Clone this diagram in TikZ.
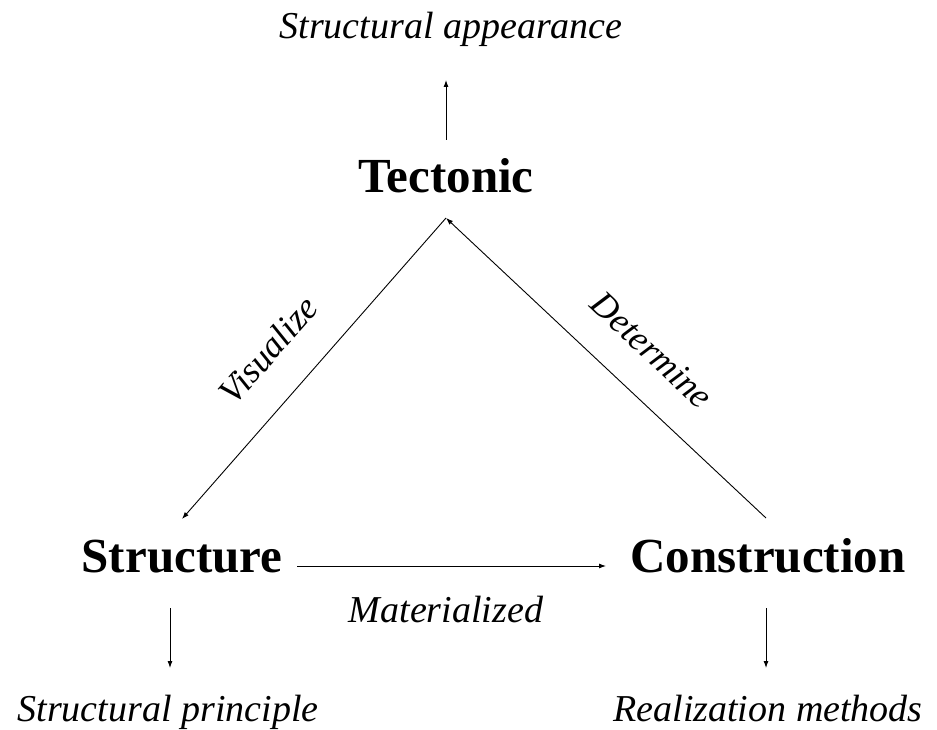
\documentclass[tikz,border=0pt]{standalone}
\usepackage{fontspec}
\setmainfont{Liberation Serif}
\usetikzlibrary{arrows.meta}
\begin{document}
\begin{tikzpicture}[x=1pt,y=-1pt,
  main/.style={font=\fontsize{49}{52}\selectfont\bfseries, inner sep=0pt, anchor=base},
  lab/.style={font=\fontsize{38}{42}\selectfont\itshape, inner sep=0pt, anchor=base},
  rlab/.style={font=\fontsize{36}{40}\selectfont\itshape, inner sep=0pt},
  con/.style={line width=0.9pt, -{Latex[length=7pt,width=5pt]}}]
\useasboundingbox (0,0) rectangle (937,730);
\node[lab] (app) at (451,39) {Structural appearance};
\node[main] (tec) at (446,193) {Tectonic};
\node[main] (str) at (182,572) {Structure};
\node[main] (con) at (768,572) {Construction};
\node[lab] (mat) at (446,622) {Materialized};
\node[lab] (pri) at (168,721) {Structural principle};
\node[lab] (rea) at (768,721) {Realization methods};
\coordinate (apex) at (446,218);
\coordinate (sL) at (182,519);
\coordinate (cR) at (766,518);
\coordinate (appB) at (446,80);
\coordinate (tecT) at (446,140);
\coordinate (hs) at (297,566);
\coordinate (he) at (606,566);
\coordinate (d1s) at (170,608);
\coordinate (d1e) at (170,668);
\coordinate (d2s) at (766,608);
\coordinate (d2e) at (766,668);
\draw[con] (tecT) -- (appB);
\draw[con] (apex) -- (sL);
\draw[con] (cR) -- (apex);
\draw[con] (hs) -- (he);
\draw[con] (d1s) -- (d1e);
\draw[con] (d2s) -- (d2e);
\node[rlab, rotate=48.7] (vis) at (268,350) {Visualize};
\node[rlab, rotate=-43] (det) at (652,350) {Determine};
\end{tikzpicture}
\end{document}
